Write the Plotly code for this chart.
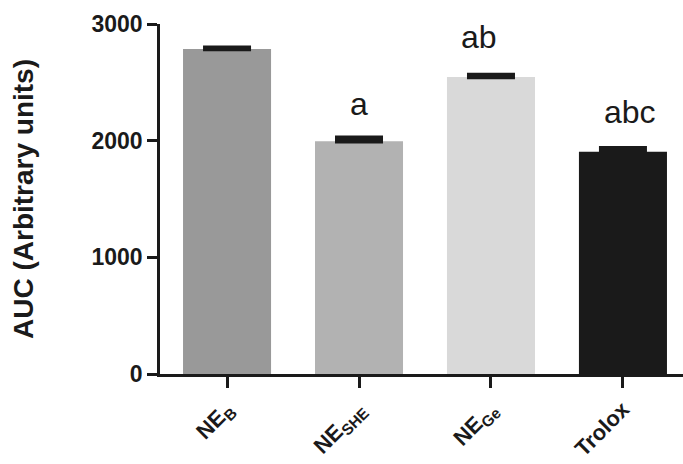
import plotly.graph_objects as go

categories = ["NE<sub>B</sub>", "NE<sub>SHE</sub>", "NE<sub>Ge</sub>", "Trolox"]
auc_values = [2786, 1996, 2546, 1904]
auc_errors = [10, 30, 17, 30]
bar_colors = ["#999999", "#b2b2b2", "#d9d9d9", "#1a1a1a"]
sig_labels = ["", "a", "ab", "abc"]
sig_label_x = [0, 1.0, 1.91, 3.05]
sig_label_y = [0, 2315, 2891, 2249]

fig = go.Figure()
fig.add_trace(go.Bar(
    x=list(range(len(categories))),
    y=auc_values,
    width=0.667,
    marker=dict(color=bar_colors, line=dict(width=0)),
    error_y=dict(type="data", symmetric=False, array=auc_errors,
                 arrayminus=[0] * len(auc_errors),
                 color="#1a1a1a", thickness=4.5, width=24),
    showlegend=False,
))

for lx, ly, lab in zip(sig_label_x, sig_label_y, sig_labels):
    if lab:
        fig.add_annotation(x=lx, y=ly, text=lab, showarrow=False,
                           xanchor="center", yanchor="middle",
                           font=dict(family="Liberation Sans, Arial", size=32, color="#1a1a1a"))

fig.update_layout(
    width=683, height=464,
    margin=dict(l=160, r=0, t=24, b=90),
    paper_bgcolor="white", plot_bgcolor="white",
    bargap=0.333,
    font=dict(family="Liberation Sans, Arial", color="#1a1a1a"),
)
fig.update_xaxes(
    range=[-0.508, 3.455],
    automargin=False,
    tickmode="array", tickvals=list(range(len(categories))), ticktext=categories,
    tickangle=-45,
    tickfont=dict(family="Liberation Sans, Arial", size=22, color="#1a1a1a", weight="bold"),
    showline=True, linecolor="#1a1a1a", linewidth=2.5,
    ticks="outside", ticklen=11, tickwidth=2.5, tickcolor="#1a1a1a",
    showgrid=False, zeroline=False,
)
fig.update_yaxes(
    range=[0, 3000],
    automargin=False,
    tickvals=[0, 1000, 2000, 3000],
    tickfont=dict(family="Liberation Sans, Arial", size=23, color="#1a1a1a", weight="bold"),
    showline=True, linecolor="#1a1a1a", linewidth=2.5,
    ticks="outside", ticklen=10, tickwidth=2.5, tickcolor="#1a1a1a",
    showgrid=False, zeroline=False,
    title=dict(text="AUC (Arbitrary units)", standoff=50,
               font=dict(family="Liberation Sans, Arial", size=28, color="#1a1a1a", weight="bold")),
)

fig.write_html("out.html")
